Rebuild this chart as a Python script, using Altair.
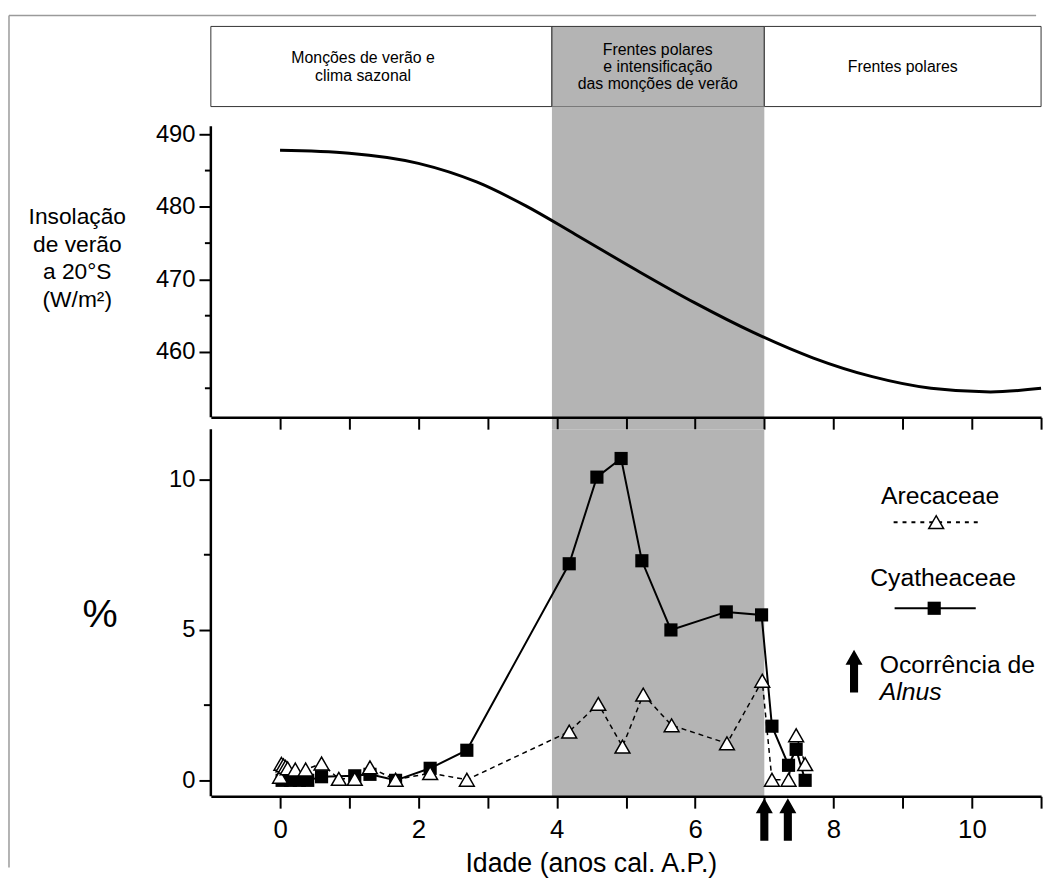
import altair as alt
import pandas as pd

# ---------------- data ----------------
# summer insolation at 20°S (W/m²)
INSOL_AGE = [0.0, 1.0, 2.0, 2.85, 3.56, 4.27, 5.13, 5.99, 6.84, 7.7, 8.56, 9.41, 10.27, 11.0]
INSOL_VAL = [487.8, 487.4, 486.0, 483.4, 480.1, 476.2, 471.4, 466.8, 462.7, 459.2, 456.6, 455.0, 454.5, 455.0]

# Arecaceae (%)
ARE_AGE = [0.0, 0.02, 0.05, 0.08, 0.11, 0.22, 0.37, 0.6, 0.85, 1.08, 1.3, 1.67, 2.17, 2.7,
           4.18, 4.6, 4.95, 5.25, 5.66, 6.46, 6.97, 7.11, 7.35, 7.46, 7.59]
ARE_VAL = [0.12, 0.55, 0.5, 0.45, 0.4, 0.36, 0.36, 0.56, 0.05, 0.05, 0.43, 0.02, 0.24, 0.02,
           1.62, 2.54, 1.12, 2.85, 1.83, 1.23, 3.31, 0.02, 0.02, 1.5, 0.54]

# Cyatheaceae (%)
CYA_AGE = [0.03, 0.15, 0.28, 0.4, 0.6, 1.08, 1.3, 1.67, 2.17, 2.7,
           4.18, 4.58, 4.93, 5.23, 5.65, 6.45, 6.96, 7.11, 7.35, 7.46, 7.59]
CYA_VAL = [0.0, 0.0, 0.0, 0.0, 0.12, 0.15, 0.2, 0.0, 0.4, 1.0,
           7.2, 10.08, 10.7, 7.3, 5.0, 5.6, 5.5, 1.8, 0.5, 1.03, 0.0]

# occurrences of Alnus (ages)
ALNUS_AGE = [7.0, 7.34]

# climate zones (header)
ZONE_START = [-1.0, 3.93, 7.0]
ZONE_END = [3.93, 7.0, 11.0]
ZONE_FILL = ["white", "#b4b4b4", "white"]
ZONE_TEXT_X = [1.2, 5.46, 9.0]
ZONE_TEXT = ["Monções de verão e\nclima sazonal",
             "Frentes polares\ne intensificação\ndas monções de verão",
             "Frentes polares"]

AGE_DOMAIN = [-1, 11]
AGE_TICKS = list(range(0, 12))
INSOL_DOMAIN = [451, 493.82]
INSOL_TICKS = [460, 470, 480, 490]
INSOL_MINOR = [455, 465, 475, 485]
INSOL_AXIS_EXTENT = [451, 491.1]
PCT_DOMAIN = [-0.53, 12.07]
PCT_TICKS = [0, 5, 10]
PCT_MINOR = [2.5, 7.5]
PCT_AXIS_EXTENT = [-0.53, 11.67]

# ---------------- styles ----------------
W = 839
H_HEAD, H_TOP, H_BOT = 81, 314, 383
GRAY = "#b4b4b4"
SANS = "Liberation Sans"
ARROW = "M0,-1L0.4,-0.3L0.19,-0.3L0.19,1L-0.19,1L-0.19,-0.3L-0.4,-0.3Z"
HEAD_LH = 17.5

one = pd.DataFrame({"k": [0]})
xsc = alt.Scale(domain=AGE_DOMAIN, nice=False, zero=False)

# ---------------- header ----------------
zones = pd.DataFrame({"x0": ZONE_START, "x1": ZONE_END, "fill": ZONE_FILL,
                      "xc": ZONE_TEXT_X, "label": ZONE_TEXT})
head_rect = alt.Chart(zones).mark_rect(stroke="#333333", strokeWidth=1).encode(
    x=alt.X("x0:Q", scale=xsc, axis=None), x2="x1:Q",
    y=alt.value(0), y2=alt.value(H_HEAD),
    fill=alt.Fill("fill:N", scale=None))
head_text = alt.Chart(zones).transform_calculate(
    ty=f"41 - (length(split(datum.label, '\\n')) - 1) * {HEAD_LH / 2}"
).mark_text(font=SANS, fontSize=16, lineBreak="\n",
            lineHeight=HEAD_LH, baseline="middle", color="black").encode(
    x=alt.X("xc:Q", scale=xsc, axis=None), y=alt.Y("ty:Q", scale=None), text="label:N")
frame_top = alt.Chart(one).mark_rule(color="#9a9a9a", strokeWidth=1.5).encode(
    x=alt.value(-204), x2=alt.value(834), y=alt.value(-11))
frame_left = alt.Chart(one).mark_rule(color="#9a9a9a", strokeWidth=1.5).encode(
    x=alt.value(-204), y=alt.value(-11), y2=alt.value(850))
header = alt.layer(frame_top, frame_left, head_rect, head_text).properties(width=W, height=H_HEAD)

# ---------------- top panel ----------------
ins = pd.DataFrame({"age": INSOL_AGE, "val": INSOL_VAL})
ysc_top = alt.Scale(domain=INSOL_DOMAIN, nice=False, zero=False)
band_df = pd.DataFrame({"b0": [ZONE_START[1]], "b1": [ZONE_END[1]]})

xaxis_top = alt.Axis(values=AGE_TICKS, labels=False, title=None, grid=False,
                     tickSize=12, tickWidth=2, tickColor="black",
                     domainWidth=2.5, domainColor="black", zindex=1)
yaxis_top = alt.Axis(values=INSOL_TICKS, title=None, grid=False, domain=False,
                     tickSize=12, tickWidth=2, tickColor="black",
                     labelFont=SANS, labelFontSize=24, labelColor="black",
                     labelPadding=4, zindex=1)

top_band = alt.Chart(band_df).mark_rect(color=GRAY).encode(
    x=alt.X("b0:Q", scale=xsc, axis=xaxis_top, title=None), x2="b1:Q",
    y=alt.value(0), y2=alt.value(H_TOP + 12))
top_line = alt.Chart(ins).mark_line(color="black", strokeWidth=3, interpolate="monotone").encode(
    x=alt.X("age:Q", scale=xsc, axis=xaxis_top, title=None),
    y=alt.Y("val:Q", scale=ysc_top, axis=yaxis_top, title=None))
top_minor = alt.Chart(pd.DataFrame({"v": INSOL_MINOR})).mark_rule(color="black", strokeWidth=2).encode(
    x=alt.value(-6), x2=alt.value(0), y=alt.Y("v:Q", scale=ysc_top, axis=yaxis_top, title=None))
top_axis = alt.Chart(pd.DataFrame({"lo": [INSOL_AXIS_EXTENT[0]], "hi": [INSOL_AXIS_EXTENT[1]]})).mark_rule(
    color="black", strokeWidth=2.5).encode(
    x=alt.value(0), y=alt.Y("lo:Q", scale=ysc_top, axis=yaxis_top, title=None), y2="hi:Q")
top_title = alt.Chart(one).mark_text(font=SANS, fontSize=23, lineBreak="\n", lineHeight=27.7,
                                     baseline="middle", align="center", color="black").encode(
    x=alt.value(-135), y=alt.value(112),
    text=alt.value("Insolação\nde verão\na 20°S\n(W/m²)"))
top = alt.layer(top_band, top_line, top_minor, top_axis, top_title).properties(width=W, height=H_TOP)

# ---------------- bottom panel ----------------
ysc_bot = alt.Scale(domain=PCT_DOMAIN, nice=False, zero=False)
are = pd.DataFrame({"age": ARE_AGE, "val": ARE_VAL})
cya = pd.DataFrame({"age": CYA_AGE, "val": CYA_VAL})

xaxis_bot = alt.Axis(values=AGE_TICKS, title="Idade (anos cal. A.P.)", grid=False,
                     labelExpr="datum.value % 2 === 0 ? datum.label : ''", format="d",
                     tickSize=12, tickWidth=2, tickColor="black",
                     domainWidth=2.5, domainColor="black",
                     labelFont=SANS, labelFontSize=26, labelColor="black", labelPadding=9,
                     titleFont=SANS, titleFontSize=27, titleFontWeight="normal",
                     titleColor="black", titlePadding=8, titleX=384, zindex=1)
yaxis_bot = alt.Axis(values=PCT_TICKS, title=None, grid=False, domain=False,
                     tickSize=12, tickWidth=2, tickColor="black",
                     labelFont=SANS, labelFontSize=24, labelColor="black",
                     labelPadding=4, zindex=1)
XT = "Idade (anos cal. A.P.)"

bot_band = alt.Chart(band_df).mark_rect(color=GRAY).encode(
    x=alt.X("b0:Q", scale=xsc, axis=xaxis_bot, title=XT), x2="b1:Q",
    y=alt.value(12), y2=alt.value(H_BOT))
are_line = alt.Chart(are).mark_line(color="black", strokeWidth=1.5, strokeDash=[5, 4]).encode(
    x=alt.X("age:Q", scale=xsc, axis=xaxis_bot, title=XT),
    y=alt.Y("val:Q", scale=ysc_bot, axis=yaxis_bot, title=None), order="age:Q")
cya_line = alt.Chart(cya).mark_line(color="black", strokeWidth=2).encode(
    x=alt.X("age:Q", scale=xsc, axis=xaxis_bot, title=XT),
    y=alt.Y("val:Q", scale=ysc_bot, axis=yaxis_bot, title=None), order="age:Q")
cya_pts = alt.Chart(cya).mark_point(shape="square", filled=True, color="black", size=177, opacity=1).encode(
    x=alt.X("age:Q", scale=xsc, axis=xaxis_bot, title=XT),
    y=alt.Y("val:Q", scale=ysc_bot, axis=yaxis_bot, title=None))
are_pts = alt.Chart(are).mark_point(shape="triangle-up", filled=True, fill="white", stroke="black",
                                    strokeWidth=1.5, size=225, opacity=1).encode(
    x=alt.X("age:Q", scale=xsc, axis=xaxis_bot, title=XT),
    y=alt.Y("val:Q", scale=ysc_bot, axis=yaxis_bot, title=None))
bot_minor = alt.Chart(pd.DataFrame({"v": PCT_MINOR})).mark_rule(color="black", strokeWidth=2).encode(
    x=alt.value(-7), x2=alt.value(0), y=alt.Y("v:Q", scale=ysc_bot, axis=yaxis_bot, title=None))
bot_axis = alt.Chart(pd.DataFrame({"lo": [PCT_AXIS_EXTENT[0]], "hi": [PCT_AXIS_EXTENT[1]]})).mark_rule(
    color="black", strokeWidth=2.5).encode(
    x=alt.value(0), y=alt.Y("lo:Q", scale=ysc_bot, axis=yaxis_bot, title=None), y2="hi:Q")
pct_title = alt.Chart(one).mark_text(font=SANS, fontSize=40, baseline="middle", align="center",
                                     color="black").encode(
    x=alt.value(-112), y=alt.value(200), text=alt.value("%"))
arrows = alt.Chart(pd.DataFrame({"age": ALNUS_AGE})).mark_point(
    shape=ARROW, filled=True, color="black", size=1849, opacity=1).encode(
    x=alt.X("age:Q", scale=xsc, axis=xaxis_bot, title=XT), y=alt.value(406.5))

# legend (drawn by hand)
LEG_FS = 25
leg_are_t = alt.Chart(one).mark_text(font=SANS, fontSize=LEG_FS, color="black", baseline="middle").encode(
    x=alt.value(737), y=alt.value(80), text=alt.value("Arecaceae"))
leg_are_l = alt.Chart(one).mark_rule(color="black", strokeWidth=2, strokeDash=[4, 5]).encode(
    x=alt.value(690), x2=alt.value(780), y=alt.value(106))
leg_are_p = alt.Chart(one).mark_point(shape="triangle-up", filled=True, fill="white", stroke="black",
                                      strokeWidth=1.5, size=225, opacity=1).encode(
    x=alt.value(733), y=alt.value(106))
leg_cya_t = alt.Chart(one).mark_text(font=SANS, fontSize=LEG_FS, color="black", baseline="middle").encode(
    x=alt.value(740), y=alt.value(163), text=alt.value("Cyatheaceae"))
leg_cya_l = alt.Chart(one).mark_rule(color="black", strokeWidth=2).encode(
    x=alt.value(691), x2=alt.value(773), y=alt.value(193))
leg_cya_p = alt.Chart(one).mark_point(shape="square", filled=True, color="black", size=177, opacity=1).encode(
    x=alt.value(731), y=alt.value(193))
leg_arrow = alt.Chart(one).mark_point(shape=ARROW, filled=True, color="black", size=1849, opacity=1).encode(
    x=alt.value(650), y=alt.value(256.5))
leg_occ = alt.Chart(one).mark_text(font=SANS, fontSize=LEG_FS, color="black", baseline="middle", align="left").encode(
    x=alt.value(676), y=alt.value(250), text=alt.value("Ocorrência de"))
leg_aln = alt.Chart(one).mark_text(font=SANS, fontSize=LEG_FS, color="black", baseline="middle", align="left",
                                   fontStyle="italic").encode(
    x=alt.value(676), y=alt.value(278), text=alt.value("Alnus"))

bottom = alt.layer(bot_band, are_line, cya_line, cya_pts, are_pts, bot_minor, bot_axis, pct_title, arrows,
                   leg_are_t, leg_are_l, leg_are_p, leg_cya_t, leg_cya_l, leg_cya_p,
                   leg_arrow, leg_occ, leg_aln).properties(width=W, height=H_BOT)

chart = alt.vconcat(header, top, bottom, spacing=0, bounds="flush").properties(
    padding={"left": 0, "top": 2, "right": 0, "bottom": 0},
    background="white"
).configure_view(stroke=None)

chart.save("out.html", embed_options={"renderer": "svg", "actions": False})
